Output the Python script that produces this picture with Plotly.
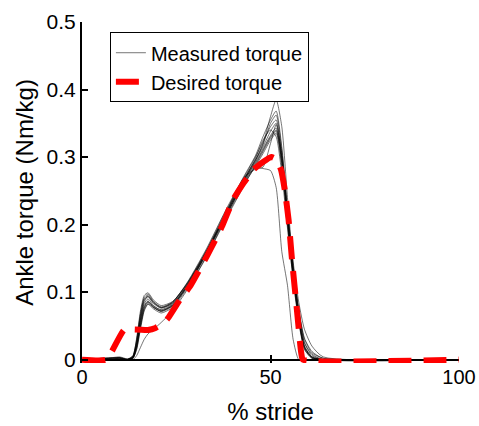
import plotly.graph_objects as go

# ---- data ----
stride_measured = [0, 8, 10, 12, 13.5, 14.5, 15.5, 16.5, 17.5, 19, 21, 24, 28, 33, 38, 43, 46, 48,
                   50, 51.5, 53, 54.5, 56, 57.5, 59, 61, 64, 100]

measured_1 = [0, 0.002, 0.003, 0, 0.003, 0.022, 0.058, 0.083, 0.090, 0.080, 0.073, 0.081, 0.110, 0.158,
              0.213, 0.266, 0.292, 0.312, 0.332, 0.343, 0.290, 0.205, 0.125, 0.060, 0.018, 0.003, 0, 0]
measured_2 = [0, 0, 0.001, 0, 0.006, 0.030, 0.068, 0.092, 0.097, 0.086, 0.078, 0.085, 0.114, 0.162,
              0.218, 0.270, 0.300, 0.322, 0.345, 0.355, 0.300, 0.210, 0.130, 0.065, 0.020, 0.004, 0, 0]
measured_3 = [0, 0.003, 0.004, 0.001, 0.002, 0.015, 0.045, 0.072, 0.082, 0.075, 0.069, 0.077, 0.106, 0.153,
              0.208, 0.260, 0.286, 0.305, 0.325, 0.335, 0.285, 0.200, 0.118, 0.055, 0.015, 0.002, 0, 0]
measured_4 = [0, 0, 0, 0, 0.004, 0.025, 0.062, 0.088, 0.093, 0.083, 0.076, 0.084, 0.113, 0.161,
              0.216, 0.268, 0.296, 0.318, 0.350, 0.362, 0.310, 0.220, 0.135, 0.070, 0.025, 0.006, 0, 0]
measured_5 = [0, 0.001, 0.002, 0, 0.003, 0.020, 0.055, 0.080, 0.087, 0.078, 0.071, 0.079, 0.108, 0.156,
              0.210, 0.264, 0.294, 0.320, 0.360, 0.385, 0.345, 0.240, 0.140, 0.070, 0.025, 0.008, 0, 0]
measured_6 = [0, 0.002, 0.003, 0, 0.002, 0.018, 0.050, 0.076, 0.085, 0.077, 0.072, 0.080, 0.109, 0.157,
              0.212, 0.262, 0.285, 0.283, 0.280, 0.255, 0.160, 0.110, 0.030, 0, 0, 0, 0, 0]
measured_7 = [0, 0, 0, 0, 0, 0.006, 0.018, 0.030, 0.038, 0.045, 0.055, 0.072, 0.104, 0.152,
              0.206, 0.258, 0.288, 0.308, 0.328, 0.338, 0.292, 0.210, 0.130, 0.072, 0.030, 0.010, 0.002, 0]
measured_8 = [0, 0.001, 0.002, 0, 0.005, 0.028, 0.066, 0.090, 0.095, 0.085, 0.077, 0.083, 0.111, 0.160,
              0.215, 0.270, 0.282, 0.285, 0.320, 0.348, 0.305, 0.215, 0.128, 0.062, 0.020, 0.004, 0, 0]
measured_9 = [0, 0, 0.001, 0, 0.003, 0.020, 0.052, 0.078, 0.086, 0.079, 0.074, 0.082, 0.111, 0.159,
              0.214, 0.266, 0.298, 0.325, 0.340, 0.330, 0.275, 0.195, 0.120, 0.058, 0.016, 0.002, 0, 0]
measured_10 = [0, 0.002, 0.002, 0, 0.004, 0.024, 0.060, 0.086, 0.094, 0.084, 0.077, 0.085, 0.115, 0.164,
               0.220, 0.272, 0.302, 0.330, 0.355, 0.368, 0.315, 0.225, 0.140, 0.075, 0.032, 0.012, 0.002, 0]
measured_11 = [0, 0, 0, 0, 0.002, 0.016, 0.048, 0.074, 0.083, 0.077, 0.072, 0.080, 0.109, 0.157,
               0.211, 0.263, 0.290, 0.310, 0.330, 0.340, 0.300, 0.220, 0.145, 0.085, 0.045, 0.020, 0.004, 0]
measured_12 = [0, 0.003, 0.003, 0.001, 0.005, 0.032, 0.072, 0.095, 0.099, 0.088, 0.080, 0.086, 0.113, 0.160,
               0.214, 0.267, 0.295, 0.315, 0.338, 0.350, 0.298, 0.208, 0.126, 0.060, 0.018, 0.003, 0, 0]

measured_series = [measured_1, measured_2, measured_3, measured_4, measured_5, measured_6,
                   measured_7, measured_8, measured_9, measured_10, measured_11, measured_12]

stride_desired = [0, 6.5, 11.2, 17.5, 19.5, 21.6, 22.9, 26.0, 28.6, 33.1, 37.1, 40.1, 42.8, 45.4,
                  48.1, 50.3, 51.7, 52.8, 53.8, 54.8, 55.7, 57.0, 58.1, 58.6, 100]
desired_torque = [0, 0, 0.044, 0.044, 0.047, 0.054, 0.062, 0.089, 0.108, 0.153, 0.197, 0.237, 0.261,
                  0.281, 0.293, 0.300, 0.296, 0.281, 0.251, 0.207, 0.148, 0.074, 0.012, 0, 0]

x_ticks = [0, 50, 100]
y_ticks = [0, 0.1, 0.2, 0.3, 0.4, 0.5]

FONT = "Liberation Sans, Arial, Helvetica, sans-serif"

fig = go.Figure()
for i, ys in enumerate(measured_series):
    fig.add_trace(go.Scatter(
        x=stride_measured, y=ys, mode="lines",
        line=dict(color="rgba(0,0,0,0.6)", width=0.9, shape="spline", smoothing=0.6),
        name="Measured torque", legendgroup="m", showlegend=(i == 0),
        hoverinfo="skip",
    ))

fig.add_trace(go.Scatter(
    x=stride_desired, y=desired_torque, mode="lines",
    line=dict(color="#ff0000", width=6, dash="23px,12px", shape="spline", smoothing=0.4),
    name="Desired torque",
))

fig.update_layout(
    width=479, height=426,
    margin=dict(l=82, r=20, t=22, b=63, autoexpand=False),
    paper_bgcolor="white", plot_bgcolor="white",
    font=dict(family=FONT, size=20, color="black"),
    showlegend=True,
    legend=dict(
        x=0.074, y=0.97, xanchor="left", yanchor="top",
        bordercolor="black", borderwidth=1, bgcolor="white",
        font=dict(family=FONT, size=20, color="black"),
        itemwidth=30, tracegroupgap=0,
    ),
    xaxis=dict(
        range=[0, 100], tickvals=x_ticks, ticktext=[str(v) for v in x_ticks],
        showline=False, showgrid=False, zeroline=False,
        ticks="inside", ticklen=8, tickwidth=1.5, tickcolor="black",
        tickfont=dict(size=20),
        title=dict(text="% stride", font=dict(size=24), standoff=16),
    ),
    yaxis=dict(
        range=[-0.005, 0.5], tickvals=y_ticks, ticktext=["0", "0.1", "0.2", "0.3", "0.4", "0.5"],
        showline=True, linecolor="black", linewidth=2, showgrid=False,
        zeroline=True, zerolinecolor="black", zerolinewidth=2,
        ticks="inside", ticklen=6, tickwidth=1.5, tickcolor="black",
        tickfont=dict(size=21),
        title=dict(text="Ankle torque (Nm/kg)", font=dict(size=24), standoff=6),
    ),
)

fig.write_html("out.html", post_script="document.body.style.margin='0';",
               config={"displayModeBar": False})
